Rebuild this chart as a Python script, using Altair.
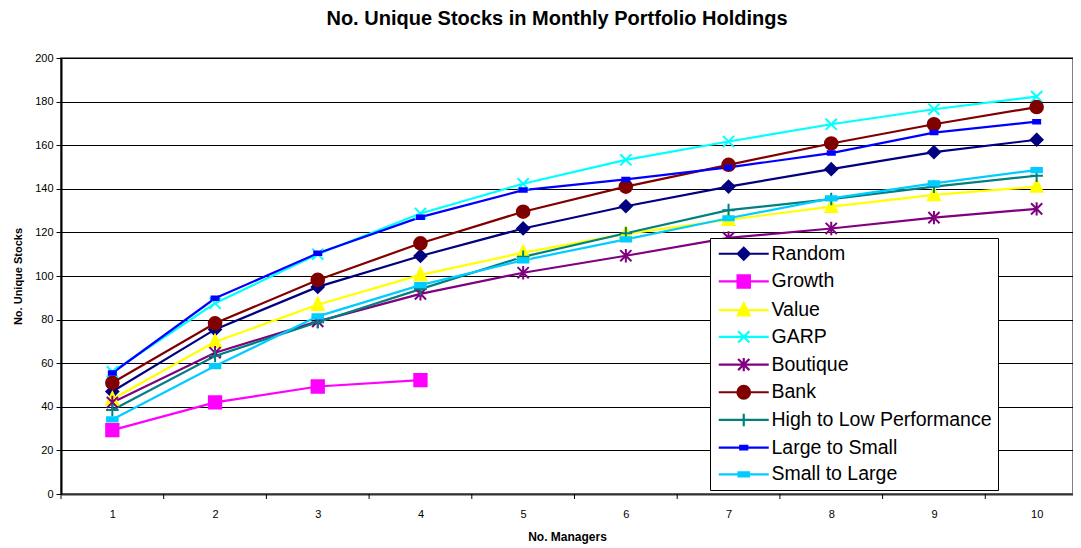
import altair as alt
import pandas as pd

# ---------------- data ----------------
managers = [1, 2, 3, 4, 5, 6, 7, 8, 9, 10]
series_names = ["Random", "Growth", "Value", "GARP", "Boutique", "Bank",
                "High to Low Performance", "Large to Small", "Small to Large"]
random_vals = [47, 75.5, 95, 109.2, 121.8, 132, 141, 149, 156.8, 162.5]
growth_vals = [29.3, 42, 49.3, 52.2]
value_vals = [43.5, 69.8, 86.8, 100.5, 110.7, 119.3, 125.8, 131.8, 137.2, 141]
garp_vals = [56, 87.5, 110, 128.7, 142.3, 153.3, 161.7, 169.6, 176.5, 182.3]
boutique_vals = [42, 64.8, 79.2, 91.8, 101.5, 109.3, 117.5, 121.8, 126.8, 130.8]
bank_vals = [51, 78.3, 98.2, 115, 129.5, 141, 151, 160.8, 169.6, 177.5]
htl_vals = [38.5, 63.3, 78.8, 94, 108.8, 119.6, 130.2, 135.3, 141, 146]
lts_vals = [55.5, 89.8, 110.4, 127, 139.4, 144.3, 149.8, 156.4, 165.8, 170.8]
stl_vals = [34.2, 58.7, 81.5, 95.8, 107.2, 116.8, 126.5, 135.6, 142.5, 148.6]
tick_edges = [0.5, 1.5, 2.5, 3.5, 4.5, 5.5, 6.5, 7.5, 8.5, 9.5]
y_ticks = [0, 20, 40, 60, 80, 100, 120, 140, 160, 180, 200]

all_vals = [random_vals, growth_vals, value_vals, garp_vals, boutique_vals,
            bank_vals, htl_vals, lts_vals, stl_vals]
colors = ["#000080", "#FF00FF", "#FFFF00", "#00FFFF", "#800080", "#800000",
          "#008080", "#0000FF", "#00CCFF"]

rows = []
for k, (name, vals) in enumerate(zip(series_names, all_vals)):
    for m, v in zip(managers, vals):
        rows.append({"series": name, "managers": m, "stocks": v, "k": k})
df = pd.DataFrame(rows)
ticks_df = pd.DataFrame({"managers": tick_edges})


# ---------------- marker shapes (unit box paths) ----------------
def f(v):
    return f"{v:.3f}"


def marker(kind, cx=0.0):
    if kind == "diamond":
        r = 0.85
        return f"M{f(cx)},{-r}L{f(cx + r)},0L{f(cx)},{r}L{f(cx - r)},0Z"
    if kind == "square":
        r = 0.88
        return f"M{f(cx - r)},{-r}H{f(cx + r)}V{r}H{f(cx - r)}Z"
    if kind == "triangle":
        return f"M{f(cx)},-1L{f(cx + 0.85)},0.75L{f(cx - 0.85)},0.75Z"
    if kind == "x":
        r = 0.8
        return f"M{f(cx - r)},{-r}L{f(cx + r)},{r}M{f(cx - r)},{r}L{f(cx + r)},{-r}"
    if kind == "star":
        r = 0.8
        return (f"M{f(cx - r)},{-r}L{f(cx + r)},{r}M{f(cx - r)},{r}L{f(cx + r)},{-r}"
                f"M{f(cx)},-0.95V0.95")
    if kind == "circle":
        r = 0.9
        return (f"M{f(cx - r)},0A{r},{r} 0 1,0 {f(cx + r)},0"
                f"A{r},{r} 0 1,0 {f(cx - r)},0Z")
    if kind == "plus":
        r = 0.9
        return f"M{f(cx - r)},0H{f(cx + r)}M{f(cx)},{-r}V{r}"
    if kind == "smallrect":
        return f"M{f(cx - 0.5)},-0.25H{f(cx + 0.5)}V0.25H{f(cx - 0.5)}Z"
    if kind == "rect":
        return f"M{f(cx - 0.75)},-0.3H{f(cx + 0.75)}V0.3H{f(cx - 0.75)}Z"


kinds = ["diamond", "square", "triangle", "x", "star", "circle", "plus",
         "smallrect", "rect"]
plot_shapes = [marker(k) for k in kinds]
legend_shapes = ["M-1,0H6.143" + marker(k, 2.571) for k in kinds]

FONT = "Liberation Sans"

x_scale = alt.Scale(domain=[0.5, 10.354], nice=False, zero=False)
y_scale = alt.Scale(domain=[0, 200], nice=False, zero=True)

x_enc = alt.X("managers:Q", scale=x_scale,
              axis=alt.Axis(values=managers, title="No. Managers", ticks=False,
                            tickSize=0, grid=False, labelPadding=14,
                            titlePadding=12, titleFontSize=12, format="d",
                            domainColor="#333333", domainWidth=2))
y_enc = alt.Y("stocks:Q", scale=y_scale,
              axis=alt.Axis(values=y_ticks, title="No. Unique Stocks",
                            tickSize=5, labelPadding=3, titlePadding=11,
                            grid=True, domainColor="black", domainWidth=2))

lines = alt.Chart(df).mark_line(strokeWidth=2.2).encode(
    x=x_enc, y=y_enc,
    color=alt.Color("series:N", sort=series_names,
                    scale=alt.Scale(domain=series_names, range=colors), legend=None),
    order="managers:Q",
)

points = alt.Chart(df).mark_point(size=196, strokeWidth=2, opacity=1).encode(
    x=alt.X("managers:Q", scale=x_scale),
    y=alt.Y("stocks:Q", scale=y_scale),
    fill=alt.Fill("series:N", scale=alt.Scale(domain=series_names, range=colors), legend=None),
    stroke=alt.Stroke("series:N", scale=alt.Scale(domain=series_names, range=colors), legend=None),
    shape=alt.Shape("series:N", scale=alt.Scale(domain=series_names, range=plot_shapes), legend=None),
    order="k:Q",
)

tick_marks = alt.Chart(ticks_df).mark_rule(color="black", strokeWidth=1).encode(
    x=alt.X("managers:Q", scale=x_scale),
    y=alt.value(436), y2=alt.value(441),
)

leg = alt.Legend(orient="none", legendX=649, legendY=180, title=None,
                 labelFont=FONT, labelFontSize=19.5, labelColor="black",
                 symbolSize=196, symbolStrokeWidth=2.2, labelOffset=36,
                 rowPadding=5.7, padding=6, fillColor="white",
                 strokeColor="black", symbolOpacity=1, labelLimit=400)

legend_layer = alt.Chart(df).transform_filter("false").mark_point(
    size=196, strokeWidth=2.2, opacity=1).encode(
    x=alt.X("managers:Q", scale=x_scale),
    y=alt.Y("stocks:Q", scale=y_scale),
    fill=alt.Fill("series:N", scale=alt.Scale(domain=series_names, range=colors), legend=leg),
    stroke=alt.Stroke("series:N", scale=alt.Scale(domain=series_names, range=colors), legend=leg),
    shape=alt.Shape("series:N", scale=alt.Scale(domain=series_names, range=legend_shapes), legend=leg),
)

chart = alt.layer(lines, points, tick_marks, legend_layer).resolve_scale(
    fill="independent", stroke="independent", shape="independent"
).properties(
    width=1012, height=436,
    title=alt.TitleParams("No. Unique Stocks in Monthly Portfolio Holdings",
                          font=FONT, fontSize=20, fontWeight="bold",
                          color="black", anchor="middle", dx=-10, offset=23),
    padding={"left": 53, "top": 50, "right": 0, "bottom": 54},
    autosize=alt.AutoSizeParams(type="none"),
    background="white",
).configure_view(
    stroke="#808080", strokeWidth=2
).configure_axis(
    labelFont=FONT, labelFontSize=11, labelColor="black",
    titleFont=FONT, titleFontSize=11, titleFontWeight="bold", titleColor="black",
    gridColor="black", gridWidth=1, tickColor="black",
)

chart.save("out.html", embed_options={"renderer": "svg", "actions": False})
